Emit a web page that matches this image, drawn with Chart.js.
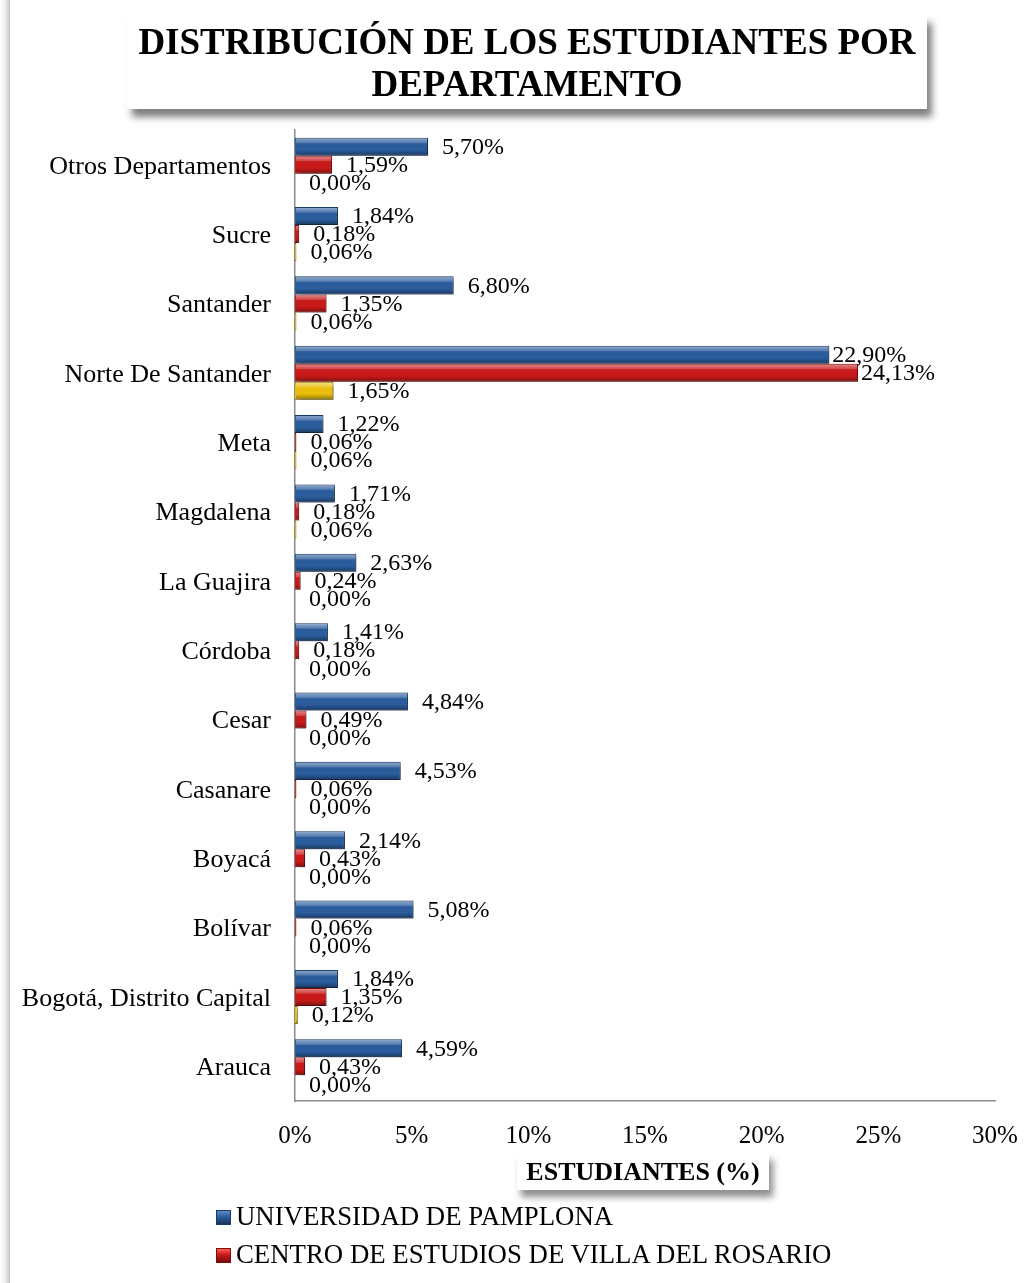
<!DOCTYPE html>
<html>
<head>
<meta charset="utf-8">
<script src="https://cdn.jsdelivr.net/npm/chart.js@4.4.1/dist/chart.umd.min.js"></script>
<style>
  html, body { margin: 0; padding: 0; background: #fff; width: 1032px; height: 1283px; overflow: hidden; }
  body { position: relative; font-family: 'Liberation Serif', 'Times New Roman', serif; }
  #frame { position: absolute; left: 0; top: 0; width: 9px; height: 1283px;
           background: linear-gradient(to right, #ffffff 0%, #f0f0f0 50%, #d2d2d2 100%);
           border-right: 1px solid #c4c4c4; }
  #chart { position: absolute; left: 0; top: 0; }
  #title { position: absolute; left: 127px; top: 15px; width: 800px; height: 94px; background: #fff;
           box-shadow: 5px 8px 7px rgba(0,0,0,0.5); text-align: center; font-weight: bold;
           font-family: 'Liberation Serif', 'Times New Roman', serif;
           font-size: 37px; line-height: 42px; color: #000; padding-top: 6px; box-sizing: border-box; }
  #xtitle { position: absolute; left: 517px; top: 1153px; width: 252px; height: 37px; background: #fff;
            box-shadow: 4px 7px 7px rgba(0,0,0,0.45); text-align: center; font-weight: bold;
            font-family: 'Liberation Serif', 'Times New Roman', serif;
            font-size: 26px; line-height: 37px; color: #000; }
  #legend { position: absolute; left: 216px; top: 1199px; }
  .li { position: relative; height: 38px; font-size: 26.8px; line-height: 34px; color: #000; padding-left: 20px; white-space: nowrap; }
  .sw { position: absolute; left: 0; top: 11px; width: 15px; height: 15px; }
</style>
</head>
<body>
<div id="frame"></div>
<canvas id="chart" width="1032" height="1283"></canvas>
<div id="title">DISTRIBUCIÓN DE LOS ESTUDIANTES POR<br>DEPARTAMENTO</div>
<div id="xtitle">ESTUDIANTES (%)</div>
<div id="legend"></div>
<script>
// ---- data ----
const categories = [
  'Otros Departamentos', 'Sucre', 'Santander', 'Norte De Santander', 'Meta', 'Magdalena',
  'La Guajira', 'Córdoba', 'Cesar', 'Casanare', 'Boyacá', 'Bolívar',
  'Bogotá, Distrito Capital', 'Arauca'
];
const seriesNames = ['UNIVERSIDAD DE PAMPLONA', 'CENTRO DE ESTUDIOS DE VILLA DEL ROSARIO', ''];
const pamplona = [5.70, 1.84, 6.80, 22.90, 1.22, 1.71, 2.63, 1.41, 4.84, 4.53, 2.14, 5.08, 1.84, 4.59];
const villaRosario = [1.59, 0.18, 1.35, 24.13, 0.06, 0.18, 0.24, 0.18, 0.49, 0.06, 0.43, 0.06, 1.35, 0.43];
const tercera = [0.00, 0.06, 0.06, 1.65, 0.06, 0.06, 0.00, 0.00, 0.00, 0.00, 0.00, 0.00, 0.12, 0.00];
const xTicks = [0, 5, 10, 15, 20, 25, 30];

// ---- styles ----
const fills = ['#2b5c9c', '#c81a1a', '#e8bd0c'];
const borders = ['#173a66', '#7d0c0c', '#8a6d00'];
const swatchGrad = [
  'linear-gradient(to bottom, #5b8bc9 0%, #2b5c9c 45%, #16365f 100%)',
  'linear-gradient(to bottom, #ff5a5a 0%, #c81a1a 45%, #7a0909 100%)',
  'linear-gradient(to bottom, #ffe066 0%, #e8bd0c 45%, #9a7a00 100%)'
];

const fmt = v => v.toFixed(2).replace('.', ',') + '%';

const bevelAndLabels = {
  id: 'bevelAndLabels',
  beforeDatasetsDraw(chart) {
    const c = chart.ctx;
    c.save();
    c.shadowColor = 'rgba(0,0,0,0.4)';
    c.shadowBlur = 4;
    c.shadowOffsetX = 2;
    c.shadowOffsetY = 3;
  },
  afterDatasetsDraw(chart) {
    const c = chart.ctx;
    c.restore();
    chart.data.datasets.forEach((ds, di) => {
      const meta = chart.getDatasetMeta(di);
      meta.data.forEach((el, i) => {
        const p = el.getProps(['x', 'y', 'base', 'height'], true);
        const left = Math.min(p.x, p.base), w = Math.abs(p.x - p.base);
        const top = p.y - p.height / 2, h = p.height;
        if (w > 1.5) {
          const g = c.createLinearGradient(0, top, 0, top + h);
          g.addColorStop(0, 'rgba(255,255,255,0.5)');
          g.addColorStop(0.28, 'rgba(255,255,255,0.2)');
          g.addColorStop(0.34, 'rgba(255,255,255,0)');
          g.addColorStop(0.68, 'rgba(0,0,0,0)');
          g.addColorStop(1, 'rgba(0,0,0,0.38)');
          c.save();
          c.fillStyle = g;
          c.fillRect(left + 1, top + 1, w - 2, h - 2);
          c.restore();
        }
        const v = ds.data[i];
        c.save();
        c.font = '24px "Liberation Serif", "Times New Roman", serif';
        c.fillStyle = '#000';
        c.textBaseline = 'middle';
        c.textAlign = 'left';
        const off = v > 20 ? 3 : 14;
        c.fillText(fmt(v), p.x + off, p.y + 1);
        c.restore();
      });
    });
  }
};

Chart.defaults.font.family = "'Liberation Serif', 'Times New Roman', serif";
Chart.defaults.color = '#000';

const datasets = [pamplona, villaRosario, tercera].map((d, k) => ({
  label: seriesNames[k],
  data: d,
  backgroundColor: fills[k],
  borderColor: borders[k],
  borderWidth: 1,
  barPercentage: 1,
  categoryPercentage: 0.78
}));

const chart = new Chart(document.getElementById('chart'), {
  type: 'bar',
  data: { labels: categories, datasets },
  options: {
    indexAxis: 'y',
    responsive: false,
    animation: false,
    layout: { padding: { top: 130, left: 0, right: 37, bottom: 112 } },
    plugins: { legend: { display: false }, title: { display: false }, tooltip: { enabled: false } },
    scales: {
      x: {
        min: 0, max: 30,
        afterBuildTicks: s => { s.ticks = xTicks.map(v => ({ value: v })); },
        afterFit: s => { s.height = 70; s.paddingRight = 0; s.paddingLeft = 0; },
        grid: { display: false, drawTicks: false },
        border: { display: true, color: '#8a8a8a', width: 1.5 },
        ticks: { padding: 20, font: { size: 25 }, maxRotation: 0, callback: v => v + '%' }
      },
      y: {
        afterFit: s => { s.width = 295; },
        grid: { display: false, drawTicks: false },
        border: { display: true, color: '#8a8a8a', width: 1.5 },
        ticks: { padding: 24, labelOffset: 2, font: { size: 26 } }
      }
    }
  },
  plugins: [bevelAndLabels]
});

// legend (first two series visible in the reference)
const lg = document.getElementById('legend');
chart.data.datasets.slice(0, 2).forEach((ds, k) => {
  const row = document.createElement('div');
  row.className = 'li';
  const sw = document.createElement('span');
  sw.className = 'sw';
  sw.style.background = swatchGrad[k];
  sw.style.border = '1px solid ' + borders[k];
  sw.style.boxSizing = 'border-box';
  row.appendChild(sw);
  row.appendChild(document.createTextNode(ds.label));
  lg.appendChild(row);
});
</script>
</body>
</html>
